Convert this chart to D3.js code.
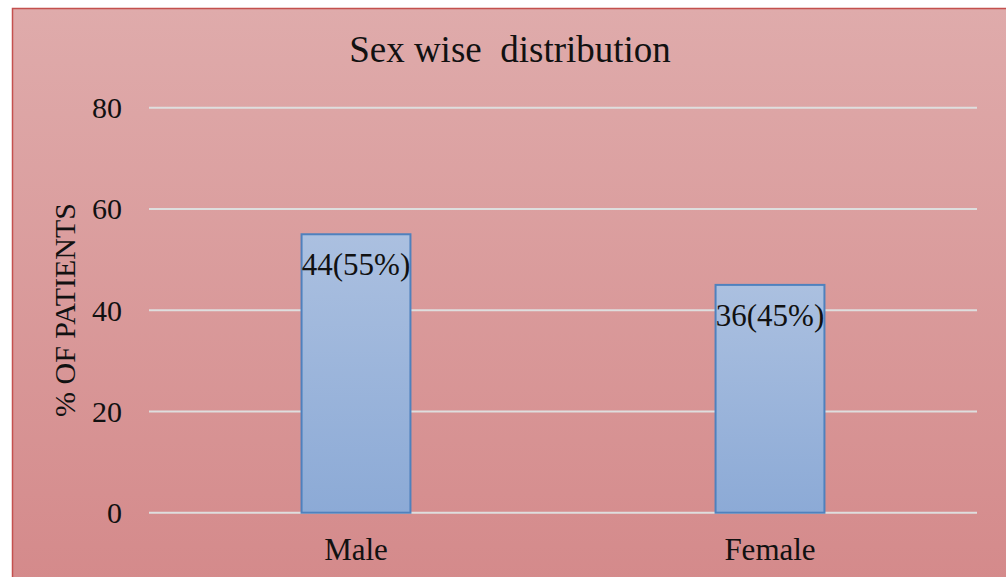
<!DOCTYPE html>
<html><head><meta charset="utf-8">
<script src="https://cdn.jsdelivr.net/npm/d3@7"></script>
<style>body{margin:0;background:#fff}svg{display:block}</style>
</head><body><div id="c"></div>
<script>
const categories = ["Male", "Female"];
const values = [55, 45];
const labels = ["44(55%)", "36(45%)"];
const yTicks = [0, 20, 40, 60, 80];
const title = "Sex wise  distribution";
const yTitle = "% OF PATIENTS";

const FONT = "'Liberation Serif', 'Times New Roman', serif";
const W = 1006, H = 577;
const svg = d3.select("#c").append("svg").attr("width", W).attr("height", H);
const defs = svg.append("defs");
const bg = defs.append("linearGradient").attr("id","bg").attr("x1",0).attr("y1",0).attr("x2",0).attr("y2",1);
bg.append("stop").attr("offset","0%").attr("stop-color","#dfabab");
bg.append("stop").attr("offset","100%").attr("stop-color","#d4898a");
const bar = defs.append("linearGradient").attr("id","bar").attr("x1",0).attr("y1",0).attr("x2",0).attr("y2",1);
bar.append("stop").attr("offset","0%").attr("stop-color","#abc0e0");
bar.append("stop").attr("offset","100%").attr("stop-color","#8caad6");

svg.append("rect").attr("x",12.5).attr("y",8.5).attr("width",1010).attr("height",590)
  .attr("fill","url(#bg)").attr("stroke","#c4504e").attr("stroke-width",1.5);

const x = d3.scaleBand().domain(categories).range([149, 977]).paddingInner(0.737).paddingOuter(0.3685);
const y = d3.scaleLinear().domain([0, 80]).range([512.7, 107.7]);

// gridlines
svg.append("g").selectAll("line").data(yTicks).join("line")
  .attr("x1",149).attr("x2",977).attr("y1",d=>y(d)).attr("y2",d=>y(d))
  .attr("stroke","#dedede").attr("stroke-width",2);

// y axis labels via d3 axis
const ya = svg.append("g").attr("transform","translate(122,0)")
  .call(d3.axisLeft(y).tickValues(yTicks).tickSize(0).tickPadding(0));
ya.attr("font-family",null).attr("font-size",null);
ya.select(".domain").remove();
ya.selectAll("text").style("font-size","30px").style("font-family",FONT).attr("fill","#111")
  .attr("dy",null).attr("y",10);

// bars
svg.append("g").selectAll("rect").data(values).join("rect")
  .attr("x",(d,i)=>x(categories[i])).attr("width",x.bandwidth())
  .attr("y",d=>y(d)).attr("height",d=>y(0)-y(d))
  .attr("fill","url(#bar)").attr("stroke","#4f81bd").attr("stroke-width",2);

// data labels
svg.append("g").selectAll("text").data(values).join("text")
  .attr("x",(d,i)=>x(categories[i])+x.bandwidth()/2).attr("y",d=>y(d)+41)
  .attr("text-anchor","middle").style("font-size","31px").style("font-family",FONT)
  .attr("fill","#111").text((d,i)=>labels[i]);

// x axis labels
const xa = svg.append("g").attr("transform","translate(0,512.7)")
  .call(d3.axisBottom(x).tickSize(0).tickPadding(0));
xa.attr("font-family",null).attr("font-size",null);
xa.select(".domain").remove();
xa.selectAll("text").style("font-size","31px").style("font-family",FONT).attr("fill","#111")
  .attr("dy",null).attr("y",47);

// title
svg.append("text").attr("x",510).attr("y",62).attr("text-anchor","middle")
  .style("font-size","37px").style("font-family",FONT).attr("fill","#111")
  .style("white-space","pre").text(title);

// y title
svg.append("text").attr("transform","translate(75,310) rotate(-90)")
  .attr("text-anchor","middle").style("font-size","30px").style("font-family",FONT)
  .attr("fill","#111").text(yTitle);
</script></body></html>
